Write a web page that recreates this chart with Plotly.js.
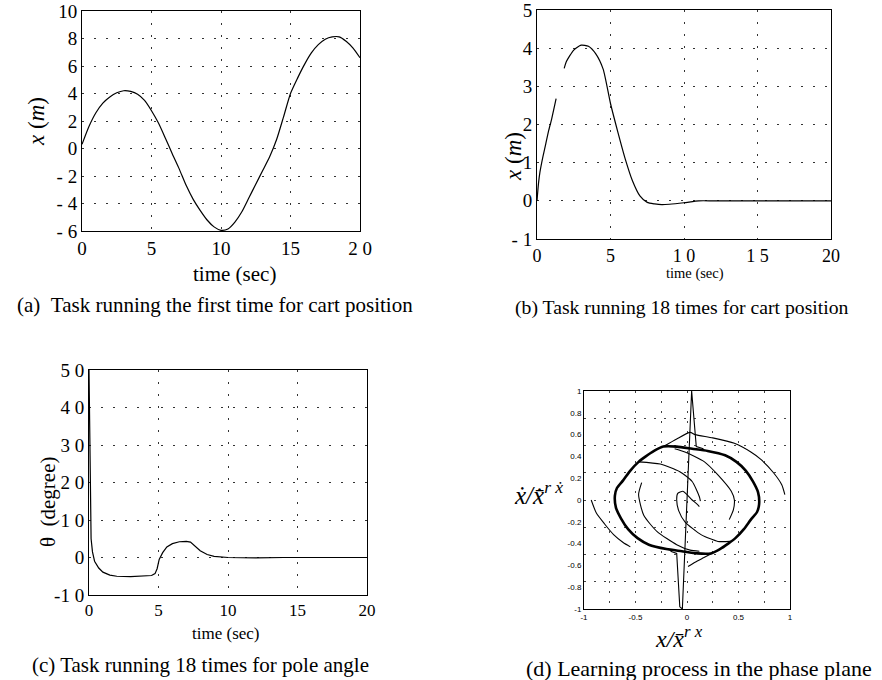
<!DOCTYPE html>
<html><head><meta charset="utf-8">
<script src="https://cdn.plot.ly/plotly-3.0.1.min.js"></script>
<style>html,body{margin:0;padding:0;background:#fff}#chart{width:882px;height:680px}</style>
</head><body><div id="chart"></div>
<script>
// ---------- (a) first run, cart position ----------
const aTime = [0,0.5,1,1.5,2,2.5,3,3.5,4,4.5,5,5.5,6,6.5,7,7.5,8,8.5,9,9.5,10,10.5,11,11.5,12,12.5,13,13.5,14,14.5,15,15.5,16,16.5,17,17.5,18,18.5,19,19.5,20];
const aPos  = [0.3,1.6,2.6,3.3,3.75,4.05,4.2,4.15,3.95,3.5,2.75,1.85,0.75,-0.4,-1.5,-2.7,-3.7,-4.5,-5.2,-5.7,-5.95,-5.85,-5.35,-4.6,-3.6,-2.6,-1.6,-0.6,0.65,2.3,4.0,5.1,6.1,6.95,7.55,7.95,8.12,8.12,7.8,7.3,6.6];
const aXTickVals = [0,5,10,15,20];
const aXTickText = ["0","5","10","15","2 0"];
const aYTickVals = [-6,-4,-2,0,2,4,6,8,10];
const aYTickText = ["- 6","- 4","- 2","0","2","4","6","8","10"];

// ---------- (b) 18 runs, cart position (gap in the trace) ----------
const bTime = [0,0.1,0.2,0.4,0.6,0.8,1.0,1.2,1.3,1.6,1.85,2.0,2.5,3.0,3.5,4.0,4.5,5.0,5.5,6.0,6.5,7.0,7.5,8.0,8.5,9.0,10,11,12,14,16,18,20];
const bPos  = [0,0.45,0.75,1.15,1.5,1.85,2.15,2.5,2.68,null,3.47,3.65,3.95,4.08,4.05,3.85,3.45,2.55,1.8,1.1,0.52,0.13,-0.04,-0.08,-0.1,-0.09,-0.05,0,0,0,0,0,0];
const bXTickVals = [0,5,10,15,20];
const bXTickText = ["0","5","1 0","1 5","20"];
const bYTickVals = [-1,0,1,2,3,4,5];
const bYTickText = ["- 1","0","1","2","3","4","5"];

// ---------- (c) 18 runs, pole angle ----------
const cTime  = [0,0.03,0.06,0.1,0.15,0.25,0.4,0.7,1.0,1.5,2.0,3.0,4.0,4.5,4.75,4.9,5.05,5.3,5.6,6.0,6.5,7.0,7.3,7.6,8.0,8.5,9.0,10,11,12,14,16,18,20];
const cAngle = [50,40,25,12,5,1.5,-1,-2.8,-3.9,-4.7,-5.0,-5.1,-5.0,-4.8,-4.3,-3.0,-0.5,1.3,2.8,3.7,4.2,4.3,4.1,3.2,1.8,0.8,0.3,0.0,-0.1,-0.1,0,0.1,0,0];
const cXTickVals = [0,5,10,15,20];
const cXTickText = ["0","5","10","15","20"];
const cYTickVals = [-10,0,10,20,30,40,50];
const cYTickText = ["-1 0","0","1 0","2 0","3 0","4 0","5 0"];

// ---------- (d) phase plane ----------
const dLoopX = [-0.70,-0.68,-0.62,-0.55,-0.47,-0.40,-0.32,-0.23,-0.10,0.05,0.20,0.37,0.48,0.57,0.64,0.69,0.70,0.68,0.62,0.55,0.47,0.40,0.32,0.23,0.10,-0.05,-0.20,-0.37,-0.48,-0.57,-0.64,-0.69,-0.70];
const dLoopY = [0.04,0.11,0.18,0.27,0.35,0.40,0.45,0.49,0.49,0.47,0.45,0.41,0.35,0.27,0.17,0.07,-0.04,-0.11,-0.18,-0.27,-0.35,-0.40,-0.45,-0.49,-0.49,-0.47,-0.45,-0.41,-0.35,-0.27,-0.17,-0.07,0.04];
const dOuterRX = [-0.23,-0.10,0.03,0.08,0.25,0.46,0.62,0.72,0.84,0.92,0.95];
const dOuterRY = [0.49,0.56,0.62,0.60,0.57,0.52,0.44,0.37,0.25,0.14,0.05];
const dOuterLX = [-0.93,-0.88,-0.80,-0.71,-0.62,-0.55];
const dOuterLY = [0.00,-0.12,-0.22,-0.32,-0.39,-0.43];
const dBottomX = [0.24,0.16,0.10,0.01];
const dBottomY = [-0.49,-0.53,-0.56,-0.61];
const dSpikeX = [0.16,0.09,0.045,-0.045,-0.07,-0.10,-0.16];
const dSpikeY = [0.47,0.49,1.0,-1.0,-0.98,-0.49,-0.47];
const dInnerAX = [-0.12,-0.02,0.17,0.30,0.43,0.46,0.45,0.41];
const dInnerAY = [0.47,0.44,0.35,0.23,0.08,0.0,-0.09,-0.18];
const dInnerA2X = [0.12,0.03,-0.10,-0.29,-0.42,-0.47,-0.44];
const dInnerA2Y = [-0.47,-0.46,-0.41,-0.29,-0.14,0.05,0.16];
const dInnerBX = [-0.47,-0.26,-0.07,0.05,0.12,0.13];
const dInnerBY = [0.35,0.33,0.26,0.17,0.03,-0.01];
const dInnerB2X = [0.42,0.30,0.14,-0.02,-0.08,-0.10,-0.09,-0.04,0.00,0.05,0.10,0.12];
const dInnerB2Y = [-0.38,-0.38,-0.32,-0.20,-0.10,0.00,0.06,0.08,0.05,0.00,-0.04,-0.06];
const dXTickVals = [-1,-0.5,0,0.5,1];
const dXTickText = ["-1","-0.5","0","0.5","1"];
const dYTickVals = [-1,-0.8,-0.6,-0.4,-0.2,0,0.2,0.4,0.6,0.8,1];
const dYTickText = ["-1","-0.8","-0.6","-0.4","-0.2","0","0.2","0.4","0.6","0.8","1"];

const W = 882, H = 680;
const px = v => v / W;
const py = v => 1 - v / H;
const SERIF = "Liberation Serif, Times New Roman, serif";

function axisBase(extra) {
  return Object.assign({
    showline: true, mirror: true, linecolor: '#000', linewidth: 1,
    ticks: '', zeroline: false, showgrid: true,
    gridcolor: '#333', gridwidth: 1, griddash: '2px,10px',
    tickmode: 'array', ticklabeloverflow: 'allow',
    tickfont: {family: SERIF, size: 18, color: '#000'},
    fixedrange: true
  }, extra);
}

const line = (w) => ({color: '#000', width: w || 1.2});
const sp = (w) => Object.assign(line(w), {shape: 'spline', smoothing: 0.6});

const traces = [
  {x: aTime, y: aPos, type: 'scatter', mode: 'lines', line: sp(1.2), xaxis: 'x', yaxis: 'y', hoverinfo: 'skip'},
  {x: bTime, y: bPos, type: 'scatter', mode: 'lines', line: sp(1.2), xaxis: 'x2', yaxis: 'y2', hoverinfo: 'skip'},
  {x: cTime, y: cAngle, type: 'scatter', mode: 'lines', line: line(1.2), xaxis: 'x3', yaxis: 'y3', hoverinfo: 'skip'},
  {x: dLoopX, y: dLoopY, type: 'scatter', mode: 'lines', line: sp(2.6), xaxis: 'x4', yaxis: 'y4', hoverinfo: 'skip'},
  {x: dOuterRX, y: dOuterRY, type: 'scatter', mode: 'lines', line: sp(1.1), xaxis: 'x4', yaxis: 'y4', hoverinfo: 'skip'},
  {x: dOuterLX, y: dOuterLY, type: 'scatter', mode: 'lines', line: sp(1.1), xaxis: 'x4', yaxis: 'y4', hoverinfo: 'skip'},
  {x: dBottomX, y: dBottomY, type: 'scatter', mode: 'lines', line: sp(1.1), xaxis: 'x4', yaxis: 'y4', hoverinfo: 'skip'},
  {x: dSpikeX, y: dSpikeY, type: 'scatter', mode: 'lines', line: line(1.1), xaxis: 'x4', yaxis: 'y4', hoverinfo: 'skip'},
  {x: dInnerAX, y: dInnerAY, type: 'scatter', mode: 'lines', line: sp(1.1), xaxis: 'x4', yaxis: 'y4', hoverinfo: 'skip'},
  {x: dInnerA2X, y: dInnerA2Y, type: 'scatter', mode: 'lines', line: sp(1.1), xaxis: 'x4', yaxis: 'y4', hoverinfo: 'skip'},
  {x: dInnerBX, y: dInnerBY, type: 'scatter', mode: 'lines', line: sp(1.1), xaxis: 'x4', yaxis: 'y4', hoverinfo: 'skip'},
  {x: dInnerB2X, y: dInnerB2Y, type: 'scatter', mode: 'lines', line: sp(1.1), xaxis: 'x4', yaxis: 'y4', hoverinfo: 'skip'},
  // empty trace that carries the 0.25-step grid axis of panel (d)
  {x: [], y: [], type: 'scatter', mode: 'lines', xaxis: 'x4', yaxis: 'y5', hoverinfo: 'skip'}
];

const smallTick = {family: "Liberation Sans, Arial, sans-serif", size: 8, color: '#000'};
const ann = (text, x, y, size, extra) => Object.assign({
  text: text, x: px(x), y: py(y), xref: 'paper', yref: 'paper', showarrow: false,
  xanchor: 'center', yanchor: 'middle', font: {family: SERIF, size: size, color: '#000'}
}, extra || {});

const layout = {
  width: W, height: H, margin: {l: 0, r: 0, t: 0, b: 0},
  paper_bgcolor: '#fff', plot_bgcolor: '#fff', showlegend: false,
  xaxis:  axisBase({domain: [px(82), px(360)], range: [0, 20], anchor: 'y', tickvals: aXTickVals, ticktext: aXTickText, tickfont: {family: SERIF, size: 19, color: '#000'}}),
  yaxis:  axisBase({domain: [py(231), py(11)], range: [-6, 10], anchor: 'x', tickvals: aYTickVals, ticktext: aYTickText, tickfont: {family: SERIF, size: 19, color: '#000'}}),
  xaxis2: axisBase({domain: [px(537), px(831)], range: [0, 20], anchor: 'y2', tickvals: bXTickVals, ticktext: bXTickText}),
  yaxis2: axisBase({domain: [py(239), py(10)], range: [-1, 5], anchor: 'x2', tickvals: bYTickVals, ticktext: bYTickText, tickfont: {family: SERIF, size: 19, color: '#000'}}),
  xaxis3: axisBase({domain: [px(89), px(367)], range: [0, 20], anchor: 'y3', tickvals: cXTickVals, ticktext: cXTickText, tickfont: {family: SERIF, size: 17, color: '#000'}}),
  yaxis3: axisBase({domain: [py(595), py(370)], range: [-10, 50], anchor: 'x3', tickvals: cYTickVals, ticktext: cYTickText, tickfont: {family: SERIF, size: 19, color: '#000'}}),
  xaxis4: axisBase({domain: [px(584), px(790)], range: [-1, 1], anchor: 'y4', tickvals: dXTickVals, ticktext: dXTickText, tickfont: smallTick,
                    minor: {tickmode: 'linear', dtick: 0.25, showgrid: true, gridcolor: '#444', griddash: '2px,8px', ticks: ''}, gridcolor: '#444', griddash: '2px,8px'}),
  yaxis4: axisBase({domain: [py(609), py(391)], range: [-1, 1], anchor: 'x4', tickvals: dYTickVals, ticktext: dYTickText, tickfont: smallTick, showgrid: false}),
  yaxis5: {overlaying: 'y4', anchor: 'x4', range: [-1, 1], tickmode: 'linear', tick0: 0, dtick: 0.25, showgrid: true, gridcolor: '#444', gridwidth: 1, griddash: '2px,8px',
           showticklabels: false, ticks: '', showline: false, zeroline: false, fixedrange: true},
  annotations: [
    // axis titles
    ann('time (sec)', 234, 274, 21),
    ann('<i>x</i>\u00a0(<i>m</i>)', 36, 122, 23, {textangle: -90}),
    ann('time (sec)', 695, 273, 14.5),
    ann('<i>x</i>\u00a0(<i>m</i>)', 513, 157, 23, {textangle: -90}),
    ann('time (sec)', 226, 633, 17),
    ann('θ\u00a0\u00a0(degree)', 48, 502, 21, {textangle: -90}),
    ann('<i>ẋ/x̄̇</i><sup><i>r</i> <i>ẋ</i></sup>', 538, 493, 25),
    ann('<i>x/x̄</i><sup><i>r</i> <i>x</i></sup>', 679, 637, 24),
    // captions
    ann('(a)\u00a0\u00a0Task running the first time for cart position', 15, 305, 21, {xanchor: 'left'}),
    ann('(b) Task running 18 times for cart position', 513, 308, 19.7, {xanchor: 'left'}),
    ann('(c) Task running 18 times for pole angle', 30, 665, 21, {xanchor: 'left'}),
    ann('(d) Learning process in the phase plane', 524, 668, 22, {xanchor: 'left'})
  ]
};

Plotly.newPlot('chart', traces, layout, {staticPlot: true, displayModeBar: false});
</script></body></html>
